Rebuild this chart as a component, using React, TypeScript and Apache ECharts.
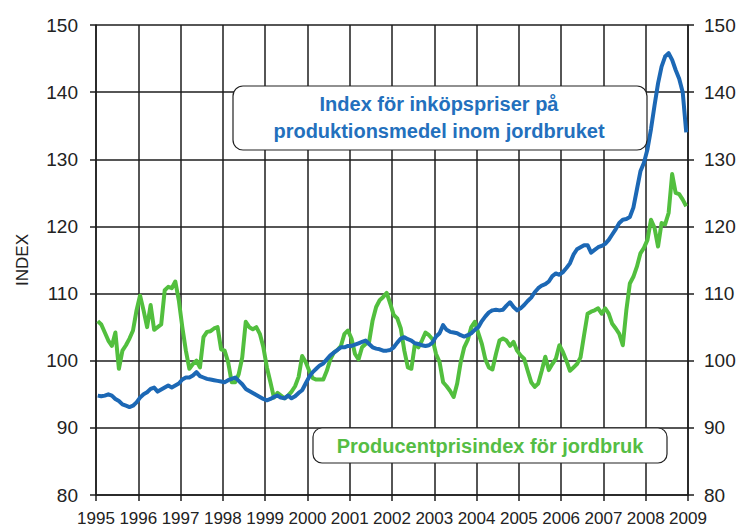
import React, { useEffect, useRef } from "react";
import * as echarts from "echarts";

// Monthly values, Jan 1995 – Dec 2008
const inputPriceIndex: number[] = [
  // 1995
  94.8, 94.7, 94.8, 95.0, 94.8, 94.3, 94.0, 93.5, 93.3, 93.1, 93.3, 93.8,
  // 1996
  94.5, 95.0, 95.3, 95.8, 96.0, 95.4, 95.7, 96.0, 96.3, 96.0, 96.3, 96.6,
  // 1997
  97.2, 97.5, 97.5, 97.8, 98.3, 97.7, 97.5, 97.3, 97.2, 97.1, 97.0, 96.9,
  // 1998
  96.8, 97.1, 97.3, 97.5, 97.0, 96.5, 95.8, 95.5, 95.2, 94.9, 94.6, 94.3,
  // 1999
  94.1, 94.3, 94.6, 94.8, 94.5, 94.4, 94.8, 94.4, 94.7, 95.2, 95.6, 96.6,
  // 2000
  97.6, 98.3, 98.8, 99.3, 99.6, 100.2, 100.8, 101.2, 101.6, 102.0, 102.0, 102.2,
  // 2001
  102.2, 102.4, 102.6, 102.8, 103.0, 102.5, 102.0, 101.8, 101.7, 101.5, 101.5, 101.6,
  // 2002
  102.0, 102.7, 103.3, 103.5, 103.2, 103.0, 102.6, 102.5, 102.3, 102.2, 102.3, 102.7,
  // 2003
  103.6, 104.1, 105.3, 104.6, 104.3, 104.2, 104.1, 103.8, 103.6, 103.8, 104.1, 104.6,
  // 2004
  105.0, 105.9, 106.6, 107.2, 107.5, 107.6, 107.5, 107.6, 108.2, 108.7, 108.0, 107.5,
  // 2005
  107.8, 108.3, 108.9, 109.4, 110.2, 110.8, 111.2, 111.4, 111.8, 112.6, 113.0, 112.8,
  // 2006
  113.2, 113.8, 114.5, 115.8, 116.6, 116.9, 117.2, 117.2, 116.1, 116.5, 116.9, 117.1,
  // 2007
  117.4, 118.0, 118.8, 119.6, 120.5, 121.0, 121.1, 121.4, 122.8, 125.5, 128.2, 129.5,
  // 2008
  131.5, 134.5, 138.0, 141.3, 143.8, 145.3, 145.8, 144.8, 143.3, 142.0, 140.0, 134.0,
];

const producerPriceIndex: number[] = [
  // 1995
  105.9, 105.4, 104.2, 103.0, 102.2, 104.2, 98.8, 101.5, 102.3, 103.3, 104.5, 107.5,
  // 1996
  109.7, 107.5, 105.0, 108.3, 104.6, 105.0, 105.4, 110.5, 111.0, 110.8, 111.8, 109.0,
  // 1997
  105.0, 101.5, 98.8, 99.5, 100.0, 99.0, 103.5, 104.3, 104.4, 104.8, 105.0, 101.7,
  // 1998
  101.5, 99.8, 96.8, 96.8, 98.0, 100.5, 105.8, 105.0, 104.7, 105.0, 104.0, 102.0,
  // 1999
  99.0, 96.8, 94.5, 95.2, 94.8, 94.4, 94.8, 95.4, 96.2, 97.6, 100.7, 99.8,
  // 2000
  98.5, 97.4, 97.2, 97.2, 97.2, 98.5, 100.2, 101.2, 101.6, 102.2, 104.0, 104.5,
  // 2001
  103.3, 101.0, 100.2, 102.0, 102.5, 102.8, 106.0, 108.0, 109.0, 109.5, 110.1, 108.5,
  // 2002
  106.8, 106.3, 104.8, 101.5, 99.0, 98.8, 102.5, 102.0, 103.0, 104.2, 103.8, 103.2,
  // 2003
  101.0, 99.8, 96.8, 96.2, 95.5, 94.6, 96.6, 99.8, 102.0, 103.1, 105.0, 105.8,
  // 2004
  104.1, 102.5, 100.2, 99.0, 98.7, 101.0, 103.0, 103.3, 103.0, 102.2, 102.8, 101.5,
  // 2005
  100.8, 100.3, 98.5, 96.8, 96.1, 96.6, 98.5, 100.6, 98.6, 99.5, 100.3, 102.3,
  // 2006
  101.3, 100.0, 98.5, 99.0, 99.5, 100.5, 103.8, 107.0, 107.3, 107.5, 107.8, 107.0,
  // 2007
  107.8, 107.0, 105.5, 104.8, 104.0, 102.3, 107.5, 111.5, 112.5, 114.0, 116.0, 116.8,
  // 2008
  118.0, 121.0, 119.8, 117.0, 120.5, 120.3, 122.0, 127.8, 125.0, 124.8, 124.0, 123.0,
];

const startYear = 1995;
const endYear = 2009;
const yTicks = [80, 90, 100, 110, 120, 130, 140, 150];

const blueLabel = ["Index för inköpspriser på", "produktionsmedel inom jordbruket"];
const greenLabel = "Producentprisindex för jordbruk";

const BLUE = "#1c68b5";
const GREEN = "#52bf3e";
const GRID = "#1e1e1e";
const FONT = "'Liberation Sans', Arial, sans-serif";

function toPoints(values: number[]) {
  return values.map((v, i) => [startYear + (i + 0.5) / 12, v]);
}

export default function App() {
  const ref = useRef<HTMLDivElement>(null);

  useEffect(() => {
    document.body.style.margin = "0";
    if (!ref.current) return;
    const chart = echarts.init(ref.current, null, { renderer: "svg" });

    const yAxisBase = {
      type: "value",
      min: yTicks[0],
      max: yTicks[yTicks.length - 1],
      interval: 10,
      axisLine: { show: true, lineStyle: { color: GRID, width: 1.5 } },
      axisTick: { show: true, inside: false, length: 6, lineStyle: { color: GRID, width: 1.5 } },
    };

    chart.setOption({
      animation: false,
      backgroundColor: "#ffffff",
      grid: { left: 96, right: 54, top: 25, bottom: 35, containLabel: false },
      xAxis: {
        type: "value",
        min: startYear,
        max: endYear,
        interval: 1,
        axisLine: { show: true, onZero: false, lineStyle: { color: GRID, width: 1.5 } },
        axisTick: { show: true, inside: false, length: 6, lineStyle: { color: GRID, width: 1.5 } },
        splitLine: { show: true, lineStyle: { color: GRID, width: 1.5 } },
        axisLabel: {
          show: true,
          margin: 15,
          fontSize: 17,
          fontFamily: FONT,
          color: "#222",
          showMinLabel: true,
          showMaxLabel: true,
          formatter: (v: number) => String(Math.round(v)),
        },
      },
      yAxis: [
        {
          ...yAxisBase,
          position: "left",
          splitLine: { show: true, lineStyle: { color: GRID, width: 1.5 } },
          axisLabel: { margin: 18, fontSize: 19, fontFamily: FONT, color: "#222" },
        },
        {
          ...yAxisBase,
          position: "right",
          splitLine: { show: false },
          axisLabel: { margin: 16, fontSize: 19, fontFamily: FONT, color: "#222" },
        },
      ],
      series: [
        {
          name: "Producentprisindex",
          type: "line",
          yAxisIndex: 0,
          data: toPoints(producerPriceIndex),
          showSymbol: false,
          symbol: "none",
          lineStyle: { color: GREEN, width: 4, join: "round" },
          z: 3,
        },
        {
          name: "Inköpspriser",
          type: "line",
          yAxisIndex: 0,
          data: toPoints(inputPriceIndex),
          showSymbol: false,
          symbol: "none",
          lineStyle: { color: BLUE, width: 4, join: "round" },
          z: 4,
        },
      ],
      graphic: [
        {
          type: "text",
          x: 22,
          y: 260,
          rotation: Math.PI / 2,
          style: {
            text: "INDEX",
            fontSize: 17,
            fontFamily: FONT,
            fill: "#222",
            textAlign: "center",
            textVerticalAlign: "middle",
          },
        },
        {
          type: "rect",
          shape: { x: 233, y: 86, width: 414, height: 64, r: 10 },
          style: { fill: "#ffffff", stroke: "#222", lineWidth: 1.2 },
          z: 100,
        },
        {
          type: "text",
          x: 439,
          y: 104,
          style: {
            text: blueLabel[0],
            fontSize: 20,
            fontWeight: "bold",
            fontFamily: FONT,
            fill: "#2370bd",
            textAlign: "center",
            textVerticalAlign: "middle",
          },
          z: 101,
        },
        {
          type: "text",
          x: 439,
          y: 131,
          style: {
            text: blueLabel[1],
            fontSize: 20,
            fontWeight: "bold",
            fontFamily: FONT,
            fill: "#2370bd",
            textAlign: "center",
            textVerticalAlign: "middle",
          },
          z: 101,
        },
        {
          type: "rect",
          shape: { x: 313, y: 428, width: 354, height: 35, r: 9 },
          style: { fill: "#ffffff", stroke: "#222", lineWidth: 1.2 },
          z: 100,
        },
        {
          type: "text",
          x: 490,
          y: 446,
          style: {
            text: greenLabel,
            fontSize: 20,
            fontWeight: "bold",
            fontFamily: FONT,
            fill: "#55bd44",
            textAlign: "center",
            textVerticalAlign: "middle",
          },
          z: 101,
        },
      ],
    });

    return () => chart.dispose();
  }, []);

  return <div ref={ref} style={{ width: 742, height: 530 }} />;
}
